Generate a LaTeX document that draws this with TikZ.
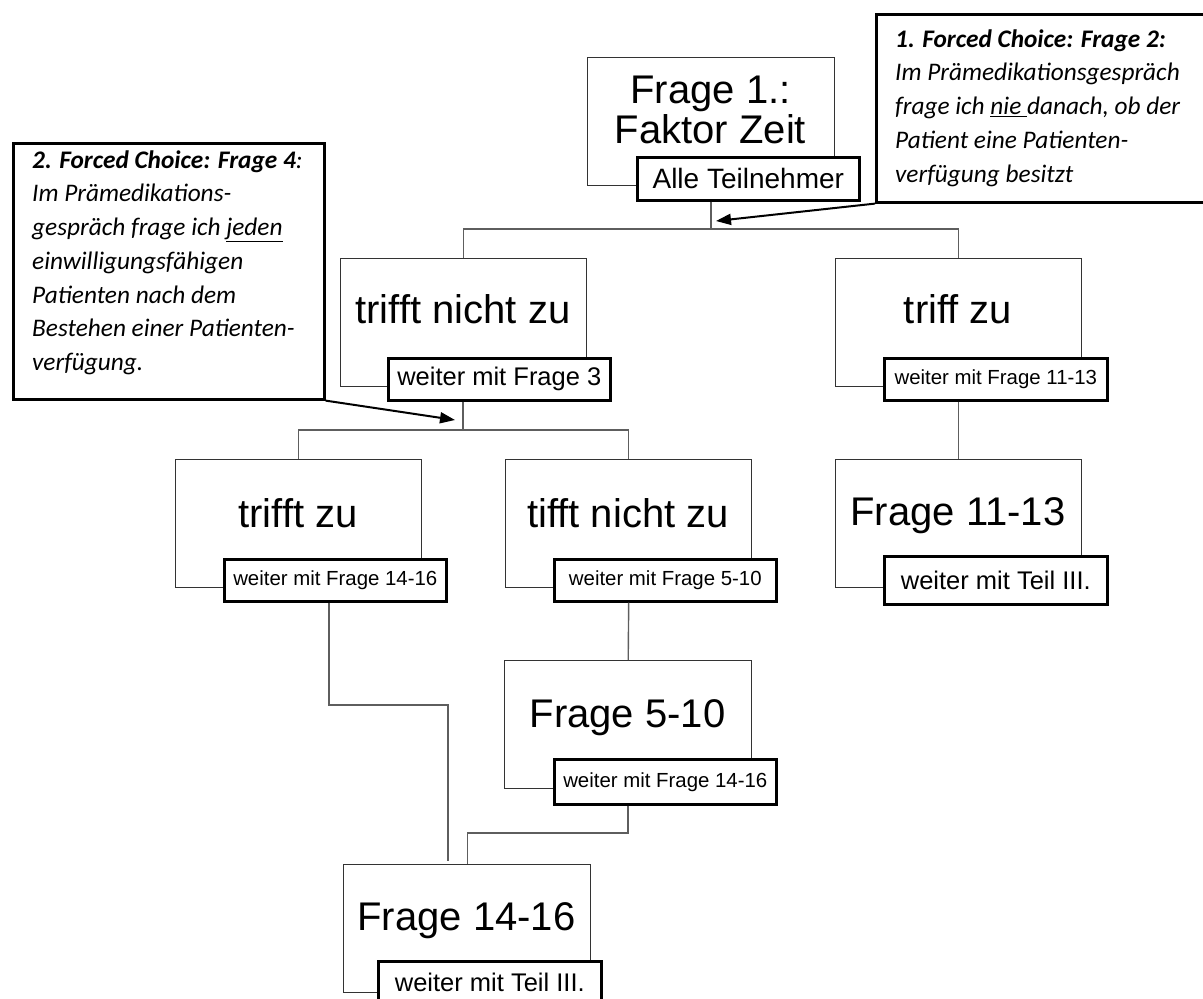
\documentclass[tikz,border=0pt]{standalone}
\usepackage{fontspec}
\setmainfont{Liberation Sans}
\newfontfamily\callfont{Carlito}
\usetikzlibrary{arrows.meta,calc}
\definecolor{boxgray}{HTML}{333333}
\definecolor{linegray}{HTML}{5E5E5E}
\tikzset{
  mainbox/.style={draw=boxgray, line width=1.4pt, fill=white, anchor=north west, inner sep=0pt},
  smallbox/.style={draw=black, line width=2.6pt, fill=white, anchor=north west, inner sep=0pt},
  bigtxt/.style={font=\fontsize{40}{40}\selectfont, anchor=base, inner sep=0pt},
  fA/.style={font=\fontsize{28}{30}\selectfont},
  fB/.style={font=\fontsize{25.5}{28}\selectfont},
  fC/.style={font=\fontsize{20.4}{23}\selectfont},
  conn/.style={draw=linegray, line width=1.4pt},
  callbox/.style={draw=black, line width=2.6pt, fill=white, anchor=north west, inner sep=0pt},
  calltxt/.style={font=\callfont\itshape\fontsize{25.3}{33.7}\selectfont, align=left, anchor=north west, inner sep=0pt},
  arr/.style={draw=black, line width=2pt, -{Triangle[length=15pt,width=11pt]}}
}
\begin{document}
\begin{tikzpicture}[x=1pt,y=-1pt]
\useasboundingbox (0,0) rectangle (1203,999);
\clip (0,0) rectangle (1203,999);

% main boxes
\node[mainbox, minimum width=247pt, minimum height=128pt] (b0) at (587,57) {};
\node[mainbox, minimum width=246pt, minimum height=128pt] (b1) at (340,258) {};
\node[mainbox, minimum width=246pt, minimum height=128pt] (b2) at (835,258) {};
\node[mainbox, minimum width=246pt, minimum height=128pt] (b3) at (175,459) {};
\node[mainbox, minimum width=246pt, minimum height=128pt] (b4) at (505,459) {};
\node[mainbox, minimum width=246pt, minimum height=128pt] (b5) at (835,459) {};
\node[mainbox, minimum width=247pt, minimum height=128pt] (b6) at (504,660) {};
\node[mainbox, minimum width=247pt, minimum height=128pt] (b7) at (343,864) {};

% main texts
\node[bigtxt] (t0a) at (710.5,103) {Frage 1.:};
\node[bigtxt] (t0b) at (710.5,143) {Faktor Zeit};
\node[bigtxt] (t1) at (463,323) {trifft nicht zu};
\node[bigtxt] (t2) at (958,323) {triff zu};
\node[bigtxt] (t3) at (298,527) {trifft zu};
\node[bigtxt] (t4) at (628,527) {tifft nicht zu};
\node[bigtxt] (t5) at (958,525) {Frage 11-13};
\node[bigtxt] (t6) at (627.5,727) {Frage 5-10};
\node[bigtxt] (t7) at (466.5,930) {Frage 14-16};

% junction coordinates
\coordinate (j0) at (711,229);
\coordinate (j1) at (463,430);
\coordinate (j3) at (628,833);
\coordinate (j4) at (329,705);
\coordinate (j5) at (448,861);

% small boxes
\node[smallbox, fA, minimum width=222pt, minimum height=43pt] (s0) at (636,156) {Alle Teilnehmer};
\node[smallbox, fB, minimum width=222pt, minimum height=42pt] (s1) at (387,357) {weiter mit Frage 3};
\node[smallbox, fC, minimum width=223pt, minimum height=42pt] (s2) at (883,357) {weiter mit Frage 11-13};
\node[smallbox, fC, minimum width=222pt, minimum height=42pt] (s3) at (223,558) {weiter mit Frage 14-16};
\node[smallbox, fC, minimum width=222pt, minimum height=42pt] (s4) at (553,558) {weiter mit Frage 5-10};
\node[smallbox, fB, minimum width=223pt, minimum height=48pt] (s5) at (883,555) {weiter mit Teil III.};
\node[smallbox, fC, minimum width=222pt, minimum height=45pt] (s6) at (553,758) {weiter mit Frage 14-16};
\node[smallbox, fB, minimum width=223pt, minimum height=43pt] (s7) at (377,960) {weiter mit Teil III.};

% connectors
\draw[conn] (s0.south -| j0) -- (j0);
\draw[conn] (b1.north) |- (j0) -| (b2.north);
\draw[conn] (s1.south -| j1) -- (j1);
\draw[conn] (b3.north) |- (j1) -| (b4.north);
\draw[conn] (s2.south -| b2.north) -- (b5.north);
\draw[conn] (s4.south -| b4.north) -- (b6.north);
\draw[conn] (s6.south -| j3) -- (j3) -| (b7.north);
\draw[conn] (s3.south -| j4) -- (j4) -| (j5);

% callouts
\node[callbox, minimum width=331pt, minimum height=188pt] (c1) at (875,13) {};
\node[calltxt] (c1t) at (895,23.5) {\strut\textbf{1. Forced Choice: Frage 2:}\\
Im Prämedikationsgespräch\\
frage ich \underline{nie\ }danach, ob der\\
Patient eine Patienten-\\
verfügung besitzt};

\node[callbox, minimum width=311pt, minimum height=256pt] (c2) at (12,142) {};
\node[calltxt] (c2t) at (32,144.5) {\strut\textbf{2. Forced Choice: Frage 4}:\\
Im Prämedikations-\\
gespräch frage ich \underline{jeden}\\
einwilligungsfähigen\\
Patienten nach dem\\
Bestehen einer Patienten-\\
verfügung.};

% arrows
\coordinate (a1) at (716,221);
\coordinate (a2) at (455,420);
\draw[arr] (c1.south west) -- (a1);
\draw[arr] (c2.south east) -- (a2);
\end{tikzpicture}
\end{document}
